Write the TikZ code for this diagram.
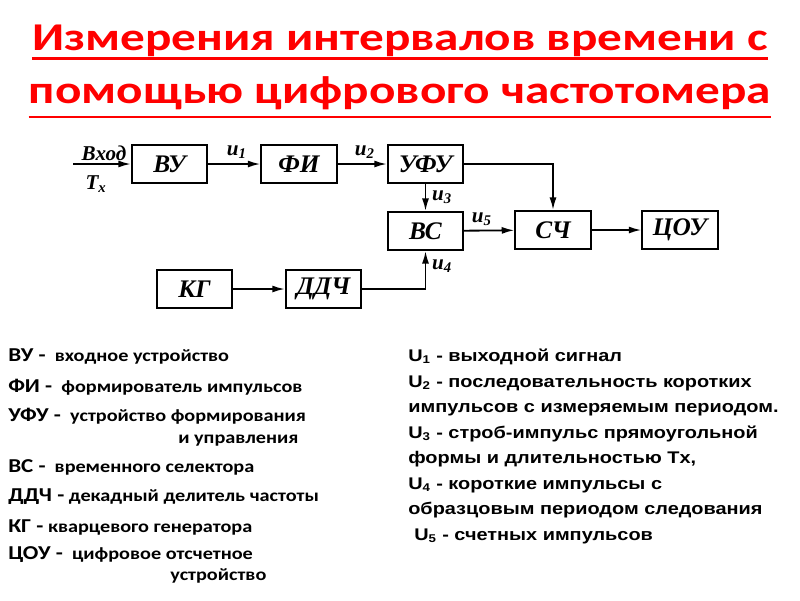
\documentclass[tikz,border=0pt]{standalone}
\usepackage{fontspec}
\setmainfont{Liberation Serif}
\newfontfamily\calib[FakeStretch=1.17]{Carlito}
\newfontfamily\calibttl[FakeStretch=1.25]{Carlito}
\newfontfamily\arial[FakeStretch=1.18]{Liberation Sans}
\newcommand{\sg}[2]{#1\textsubscript{#2}}
\usetikzlibrary{arrows.meta,positioning}

\begin{document}
\begin{tikzpicture}[x=0.025cm,y=-0.025cm,
    blk/.style={draw, line width=1.4pt, minimum width=1.88cm, minimum height=0.95cm, inner sep=0pt, font=\fontsize{18}{20}\selectfont\bfseries\itshape},
    lnk/.style={line width=1.3pt, -{Latex[length=9pt,width=5pt]}},
    sig/.style={inner sep=0pt, font=\fontsize{15}{17}\selectfont\bfseries\itshape},
    ttl/.style={anchor=base, inner sep=0pt, text=red, font=\calibttl\bfseries\fontsize{28}{30}\selectfont},
    legl/.style={anchor=base west, inner sep=0pt, font=\calib\bfseries\fontsize{12.3}{14}\selectfont},
    legr/.style={anchor=base west, inner sep=0pt, font=\arial\bfseries\fontsize{12}{14}\selectfont}]

    \useasboundingbox (0,0) rectangle (800,600);

    % title
    \node (title1) [ttl] at (400,50) {Измерения интервалов времени с};
    \node (title2) [ttl] at (400,103) {помощью цифрового частотомера};
    \draw[red, line width=2pt] ([yshift=-6pt]title1.base west) -- ([yshift=-6pt]title1.base east);
    \draw[red, line width=2pt] ([yshift=-10pt]title2.base west) -- ([yshift=-10pt]title2.base east);

    % block diagram
    \node (vu) [blk] at (169.5,164) {ВУ};
    \node (fi) [blk] at (299,164) {ФИ};
    \node (ufu) [blk] at (425.5,164) {УФУ};
    \node (vs) [blk] at (425.5,231) {ВС};
    \node (sch) [blk] at (553,230) {СЧ};
    \node (cou) [blk] at (680,230) {ЦОУ};
    \node (kg) [blk] at (194.5,289) {КГ};
    \node (ddch) [blk] at (323.5,289) {ДДЧ};
    \coordinate (inp) at (73,164);

    \node (vhod) [sig, anchor=base] at (104,160) {Вход};
    \node (tx) [sig, anchor=north] at (96,175) {\sg{T}{x}};

    \draw[lnk] (inp) -- (vu);
    \draw[lnk] (vu) -- node[sig, above=3pt, pos=0.55] {\sg{u}{1}} (fi);
    \draw[lnk] (fi) -- node[sig, above=3pt, pos=0.55] {\sg{u}{2}} (ufu);
    \draw[lnk] (ufu) -- node[sig, right=4pt] {\sg{u}{3}} (vs);
    \draw[lnk] (ufu.east) -| (sch.north);
    \draw[lnk] (vs) -- node[sig, above=3pt, pos=0.35] {\sg{u}{5}} (sch);
    \draw[lnk] (sch) -- (cou);
    \draw[lnk] (kg) -- (ddch);
    \draw[lnk] (ddch.east) -| node[sig, right=4pt, pos=0.8] {\sg{u}{4}} (vs.south);

    % legend, left
    \node (l1) [legl] at (8,361) {{\fontsize{14}{16}\selectfont ВУ -}\ \ входное устройство};
    \node (l2) [legl] at (8,392) {{\fontsize{14}{16}\selectfont ФИ -}\ \ формирователь импульсов};
    \node (l3) [legl] at (8,421) {{\fontsize{14}{16}\selectfont УФУ -}\ \ устройство формирования};
    \node (l4) [legl] at (178,443) {и управления};
    \node (l5) [legl] at (8,472) {{\fontsize{14}{16}\selectfont ВС -}\ \ временного селектора};
    \node (l6) [legl] at (8,501) {{\fontsize{14}{16}\selectfont ДДЧ -} декадный делитель частоты};
    \node (l7) [legl] at (8,532) {{\fontsize{14}{16}\selectfont КГ -} кварцевого генератора};
    \node (l8) [legl] at (8,559) {{\fontsize{14}{16}\selectfont ЦОУ -}\ \ цифровое отсчетное};
    \node (l9) [legl] at (170,580) {устройство};

    % legend, right
    \node (r1) [legr] at (408,361) {\sg{U}{1} - выходной сигнал};
    \node (r2) [legr] at (408,387) {\sg{U}{2} - последовательность коротких};
    \node (r3) [legr] at (408,412) {импульсов с измеряемым периодом.};
    \node (r4) [legr] at (408,438) {\sg{U}{3} - строб-импульс прямоугольной};
    \node (r5) [legr] at (408,463) {формы и длительностью Tx,};
    \node (r6) [legr] at (408,489) {\sg{U}{4} - короткие импульсы с};
    \node (r7) [legr] at (408,514) {образцовым периодом следования};
    \node (r8) [legr] at (414,540) {\sg{U}{5} - счетных импульсов};
\end{tikzpicture}
\end{document}
